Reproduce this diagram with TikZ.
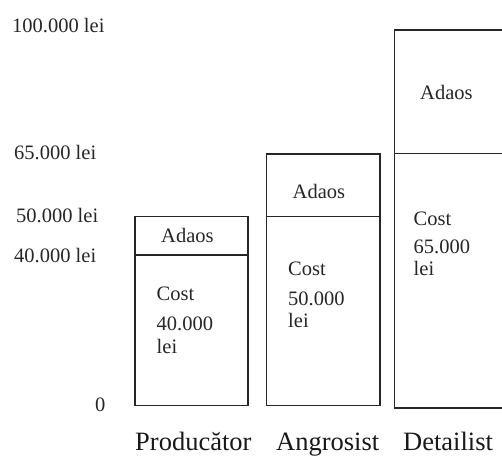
\documentclass[tikz,border=0pt]{standalone}
\usepackage{fontspec}
\setmainfont{Liberation Serif}
\begin{document}
\begin{tikzpicture}[x=1pt,y=-1pt,
  bar/.style={draw=black!85,line width=1.3pt},
  val/.style={anchor=base west,inner sep=0pt,font=\fontsize{20.5}{24}\selectfont,text=black!85},
  who/.style={anchor=base west,inner sep=0pt,font=\fontsize{26.5}{30}\selectfont,text=black!90}]
\useasboundingbox (0,0) rectangle (502,457);
\clip (0,0) rectangle (502,457);

% value scale on the left
\node[val] (v100) at (12,33)  {100.000 lei};
\node[val] (v65)  at (14,159) {65.000 lei};
\node[val] (v50)  at (16,222) {50.000 lei};
\node[val] (v40)  at (14,262) {40.000 lei};
\node[val] (v0)   at (95,411) {0};

% Producator: cost 40.000, margin up to 50.000
\draw[bar] (135,216.7) rectangle (248,405.5);
\draw[bar] (135,255) -- (248,255);
\node[val] (pa) at (161,242) {Adaos};
\node[val] (pc1) at (156.5,300) {Cost};
\node[val] (pc2) at (156.5,330) {40.000};
\node[val] (pc3) at (156.5,353) {lei};

% Angrosist: cost 50.000, margin up to 65.000
\draw[bar] (266.7,154) rectangle (380,405.5);
\draw[bar] (266.7,216.7) -- (380,216.7);
\node[val] (aa) at (292.5,198) {Adaos};
\node[val] (ac1) at (288,275) {Cost};
\node[val] (ac2) at (288,305) {50.000};
\node[val] (ac3) at (288,327) {lei};

% Detailist: cost 65.000, margin up to 100.000
\draw[bar] (394.7,30) rectangle (506,408);
\draw[bar] (394.7,153.3) -- (506,153.3);
\node[val] (da) at (420,100) {Adaos};
\node[val] (dc1) at (413.5,225) {Cost};
\node[val] (dc2) at (413.5,253) {65.000};
\node[val] (dc3) at (413.5,275) {lei};

% stage names
\node[who] (np) at (135,450.5) {Producător};
\node[who] (na) at (276,450.5) {Angrosist};
\node[who] (nd) at (403,450.5) {Detailist};
\end{tikzpicture}
\end{document}
